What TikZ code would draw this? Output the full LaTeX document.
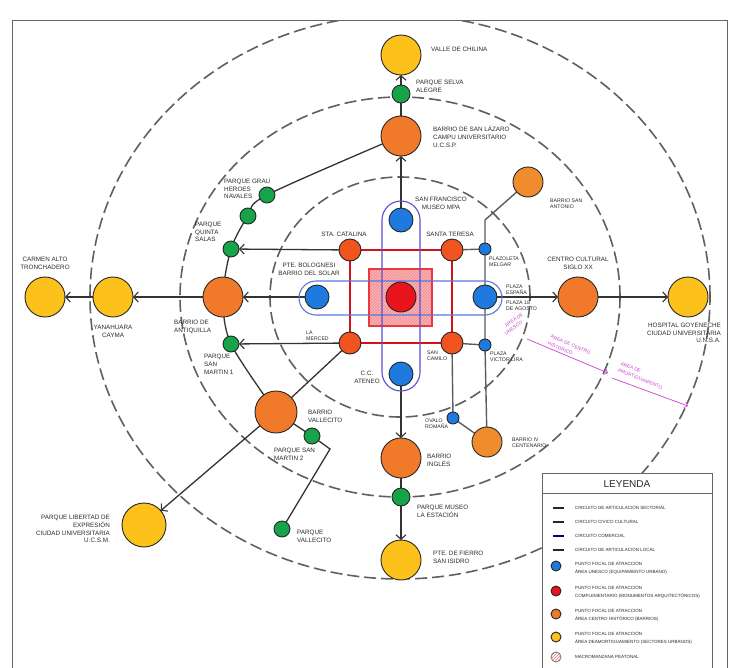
\documentclass[tikz,border=0pt]{standalone}
\usepackage{fontspec}
\setmainfont{Liberation Sans}
\usetikzlibrary{arrows.meta,patterns,backgrounds}
\definecolor{cyel}{HTML}{FCC21B}
\definecolor{corg}{HTML}{F07A2A}
\definecolor{corl}{HTML}{EE8C2E}
\definecolor{cred}{HTML}{F2541F}
\definecolor{cctr}{HTML}{E8141C}
\definecolor{cblu}{HTML}{1F7AE0}
\definecolor{cgrn}{HTML}{17A34A}
\definecolor{cpink}{HTML}{CC44CC}
\definecolor{cline}{HTML}{333333}
\definecolor{cgry}{HTML}{5C5C5C}
\definecolor{cdash}{HTML}{606060}
\definecolor{cstadh}{HTML}{5A78D8}
\definecolor{cstadv}{HTML}{5A4FCF}
\definecolor{ctxt}{HTML}{2A2A2A}
\begin{document}
\begin{tikzpicture}[x=1pt,y=-1pt,
  dot/.style={circle,draw=black!85,line width=0.9pt,inner sep=0pt,outer sep=0pt},
  yel/.style={dot,fill=cyel,minimum size=40pt},
  org/.style={dot,fill=corg,minimum size=40pt},
  orl/.style={dot,fill=corl,minimum size=30pt},
  redn/.style={dot,fill=cred,minimum size=22pt},
  blu/.style={dot,fill=cblu,minimum size=24pt},
  blus/.style={dot,fill=cblu,minimum size=12pt},
  grn/.style={dot,fill=cgrn,minimum size=16pt},
  lbl/.style={font=\fontsize{6.3}{7.8}\selectfont,text=ctxt,inner sep=0pt,align=left},
  sml/.style={font=\fontsize{5.2}{6}\selectfont,text=ctxt,inner sep=0pt,align=left},
  pnk/.style={font=\fontsize{4.8}{5.5}\selectfont,text=cpink,inner sep=0pt,anchor=west},
  legt/.style={font=\fontsize{4.5}{7.8}\selectfont,text=ctxt,inner sep=0pt,align=left,anchor=west},
  arr/.style={draw=cline,line width=1.3pt,-{Straight Barb[length=4.5pt,width=10pt,line width=1.1pt]}},
  conn/.style={draw=cline,line width=1.3pt},
  gline/.style={draw=cgry,line width=1.4pt},
  rline/.style={draw=cctr!90!black,line width=1.8pt},
  ring/.style={draw=cdash,line width=1.6pt,dash pattern=on 12pt off 5pt},
  pinkarr/.style={draw=cpink,line width=0.7pt,-{Straight Barb[length=3pt,width=6pt,line width=0.7pt]}}
]
\useasboundingbox (0,0) rectangle (731,667);

% macromanzana square and stadiums
\path[preaction={fill=cctr!45},pattern=north east lines,pattern color=cctr!25] (369,269) rectangle (432,326);
\draw[cctr!85,line width=1.2pt] (369,269) rectangle (432,326);
\draw[cstadh,line width=1.1pt,rounded corners=17pt] (299,281) rectangle (502,315);
\draw[cstadv,line width=1.1pt,rounded corners=19pt] (382,201) rectangle (420,391);

% nodes
\node[yel] (chilina) at (401,55) {};
\node[grn,minimum size=18pt] (selva) at (401,94) {};
\node[org] (lazaro) at (401,136) {};
\node[blu] (sanfran) at (401,220) {};
\node[redn] (catalina) at (350,250) {};
\node[redn] (teresa) at (452,250) {};
\node[redn] (merced) at (350,343) {};
\node[redn] (camilo) at (452,343) {};
\node[dot,fill=cctr,minimum size=30pt] (centro) at (401,297) {};
\node[blu] (bolog) at (317,297) {};
\node[blu] (espana) at (485,297) {};
\node[blu] (ateneo) at (401,374) {};
\node[blus] (melgar) at (485,249) {};
\node[blus] (lira) at (485,345) {};
\node[blus] (ovalo) at (453,418) {};
\node[orl] (antonio) at (528,182) {};
\node[orl] (centenario) at (487,442) {};
\node[org] (antiquilla) at (223,297) {};
\node[org] (siglo) at (578,297) {};
\node[org] (ingles) at (401,458) {};
\node[org,minimum size=42pt] (vallecito) at (276,412) {};
\node[yel] (carmen) at (45,297) {};
\node[yel] (yana) at (113,297) {};
\node[yel] (hospital) at (688,297) {};
\node[yel] (fierro) at (401,560) {};
\node[yel,minimum size=44pt] (libertad) at (144,525) {};
\node[grn] (grau) at (267,195) {};
\node[grn] (gmid) at (248,216) {};
\node[grn] (quinta) at (231,249) {};
\node[grn] (sm1) at (231,344) {};
\node[grn] (sm2) at (312,436) {};
\node[grn] (pvall) at (282,529) {};
\node[grn,minimum size=18pt] (museo) at (401,497) {};
\coordinate (bendA) at (485,220);
\coordinate (bendB) at (330,449);

% background: white, rings, connectors
\begin{scope}[on background layer]
  \fill[white] (0,0) rectangle (731,667);
  \begin{scope}
    \clip (12,20) rectangle (727,667);
    \draw[ring] (400,297) ellipse [x radius=130pt, y radius=120pt];
    \draw[ring] (400,297) ellipse [x radius=220pt, y radius=200pt];
    \draw[ring] (400,297) ellipse [x radius=310pt, y radius=282pt];
  \end{scope}
  \draw[conn] plot[smooth] coordinates {(lazaro) (grau) (gmid) (quinta) (antiquilla) (sm1) (vallecito)};
  \draw[arr] (sanfran) -- (lazaro);
  \draw[conn] (lazaro) -- (selva);
  \draw[arr] (selva) -- (chilina);
  \draw[arr] (catalina) -- (quinta);
  \draw[arr] (bolog) -- (antiquilla);
  \draw[arr] (antiquilla) -- (yana);
  \draw[arr] (yana) -- (carmen);
  \draw[arr] (merced) -- (sm1);
  \draw[arr] (espana) -- (siglo);
  \draw[arr] (siglo) -- (hospital);
  \draw[arr] (ateneo) -- (ingles);
  \draw[conn] (ingles) -- (museo);
  \draw[arr] (museo) -- (fierro);
  \draw[arr] (vallecito) -- (libertad);
  \draw[conn] (merced) -- (vallecito);
  \draw[conn] (vallecito) -- (sm2) -- (bendB) -- (pvall);
  \draw[gline] (teresa) -- (melgar);
  \draw[gline] (antonio) -- (bendA) -- (melgar) -- (espana) -- (lira) -- (centenario);
  \draw[gline] (camilo) -- (lira);
  \draw[gline] (camilo) -- (ovalo) -- (centenario);
  \draw[rline] (catalina) -- (teresa) -- (camilo) -- (merced) -- (catalina);
\end{scope}

% frame
\draw[gray!80!black,line width=1pt] (12,680) -- (12,20) -- (727,20) -- (727,680);

% labels
\node[lbl,anchor=west] (tchilina) at (431,49) {VALLE DE CHILINA};
\node[lbl,anchor=west] (tselva) at (416,86) {PARQUE SELVA\\ALEGRE};
\node[lbl,anchor=west] (tlazaro) at (433,137) {BARRIO DE SAN LÁZARO\\CAMPU UNIVERSITARIO\\U.C.S.P.};
\node[lbl,align=center] (tsanfran) at (441,203) {SAN FRANCISCO\\MUSEO MPA};
\node[lbl] (tteresa) at (450,234) {SANTA TERESA};
\node[lbl] (tcatalina) at (344,234) {STA. CATALINA};
\node[sml,anchor=west] (tantonio) at (550,204) {BARRIO SAN\\ANTONIO};
\node[sml,anchor=west] (tmelgar) at (489,262) {PLAZOLETA\\MELGAR};
\node[sml,anchor=west] (tespana) at (506,290) {PLAZA\\ESPAÑA};
\node[sml,anchor=west] (tagosto) at (506,306) {PLAZA 18\\DE AGOSTO};
\node[lbl,align=center] (tsiglo) at (578,263) {CENTRO CULTURAL\\SIGLO XX};
\node[lbl,align=right,anchor=east] (thospital) at (721,333) {HOSPITAL GOYENECHE\\CIUDAD UNIVERSITARIA\\U.N.S.A.};
\node[sml,anchor=west] (tlira) at (490,357) {PLAZA\\VICTOR LIRA};
\node[sml,anchor=west] (tcamilo) at (427,356) {SAN\\CAMILO};
\node[sml,anchor=west] (tmerced) at (306,336) {LA\\MERCED};
\node[lbl,align=center] (tbolog) at (309,269) {PTE. BOLOGNESI\\BARRIO DEL SOLAR};
\node[lbl,align=center] (tateneo) at (367,377) {C.C.\\ATENEO};
\node[sml,anchor=west] (tovalo) at (425,424) {OVALO\\ROMAÑA};
\node[sml,anchor=west] (tcent) at (512,443) {BARRIO IV\\CENTENARIO};
\node[lbl,anchor=west] (tingles) at (427,460) {BARRIO\\INGLÉS};
\node[lbl,anchor=west] (tmuseo) at (417,511) {PARQUE MUSEO\\LA ESTACIÓN};
\node[lbl,anchor=west] (tfierro) at (433,557) {PTE. DE FIERRO\\SAN ISIDRO};
\node[lbl,anchor=west] (tvallecito) at (308,416) {BARRIO\\VALLECITO};
\node[lbl,anchor=west] (tsm2) at (274,454) {PARQUE SAN\\MARTIN 2};
\node[lbl,anchor=west] (tpvall) at (297,536) {PARQUE\\VALLECITO};
\node[lbl,align=right,anchor=east] (tlibertad) at (110,529) {PARQUE LIBERTAD DE\\EXPRESIÓN\\CIUDAD UNIVERSITARIA\\U.C.S.M.};
\node[lbl,anchor=west] (tsm1) at (204,364) {PARQUE\\SAN\\MARTIN 1};
\node[lbl,anchor=west] (tantiq) at (174,327) {BARRIO DE\\ANTIQUILLA};
\node[lbl,align=center] (tyana) at (113,331) {YANAHUARA\\CAYMA};
\node[lbl,align=center] (tcarmen) at (45,263) {CARMEN ALTO\\TRONCHADERO};
\node[lbl,anchor=west] (tquinta) at (195,232) {PARQUE\\QUINTA\\SALAS};
\node[lbl,anchor=west] (tgrau) at (224,189) {PARQUE GRAU\\HEROES\\NAVALES};

% pink annotations
\node[pnk,rotate=35] (tunesco1) at (505,326) {ÁREA DE};
\node[pnk,rotate=35] (tunesco2) at (505,334) {UNESCO};
\node[pnk,rotate=-23] (thist1) at (551,336) {ÁREA DE CENTRO};
\node[pnk,rotate=-23] (thist2) at (548,343) {HISTÓRICO};
\node[pnk,rotate=-22] (tamort1) at (621,363) {ÁREA DE};
\node[pnk,rotate=-22] (tamort2) at (618,370) {AMORTIGUAMIENTO};
\coordinate (pa1) at (527,339);
\coordinate (pa2) at (608,373);
\coordinate (pb1) at (612,378);
\coordinate (pb2) at (688,406);
\draw[pinkarr] (pa1) -- (pa2);
\draw[pinkarr] (pb1) -- (pb2);

% legend
\draw[fill=white,draw=gray!80!black,line width=0.8pt] (542,473) rectangle (712,680);
\draw[gray!80!black,line width=0.8pt] (542,493) -- (712,493);
\node[font=\fontsize{10}{12}\selectfont,text=ctxt] (tley) at (627,484) {LEYENDA};
\draw[black!85,line width=1.3pt] (553,508) -- (564,508);
\node[legt] (l1) at (575,508) {CIRCUITO DE ARTICULACION SECTORIAL};
\draw[black!85,line width=1.3pt] (553,522) -- (564,522);
\node[legt] (l2) at (575,522) {CIRCUITO CIVICO CULTURAL};
\draw[blue!45!black,line width=1.3pt] (553,536) -- (564,536);
\node[legt] (l3) at (575,536) {CIRCUITO COMERCIAL};
\draw[black!85,line width=1.3pt] (553,550) -- (564,550);
\node[legt] (l4) at (575,550) {CIRCUITO DE ARTICULACION LOCAL};
\node[dot,fill=cblu,minimum size=10pt] (d1) at (556,566) {};
\node[legt] (l5) at (575,568) {PUNTO FOCAL DE ATRACCIÓN\\ÁREA UNESCO (EQUIPAMIENTO URBANO)};
\node[dot,fill=cctr,minimum size=10pt] (d2) at (556,591) {};
\node[legt] (l6) at (575,592) {PUNTO FOCAL DE ATRACCIÓN\\COMPLEMENTARIO (MONUMENTOS ARQUITECTÓNICOS)};
\node[dot,fill=corg,minimum size=10pt] (d3) at (556,614) {};
\node[legt] (l7) at (575,615) {PUNTO FOCAL DE ATRACCIÓN\\ÁREA CENTRO HISTÓRICO (BARRIOS)};
\node[dot,fill=cyel,minimum size=10pt] (d4) at (556,637) {};
\node[legt] (l8) at (575,638) {PUNTO FOCAL DE ATRACCIÓN\\ÁREA DEAMORTIGUAMIENTO (SECTORES URBANOS)};
\node[dot,draw=gray,fill=pink!60,pattern=north east lines,pattern color=cctr!60,minimum size=10pt] (d5) at (556,657) {};
\node[legt] (l9) at (575,657) {MACROMANZANA PEATONAL};
\end{tikzpicture}
\end{document}
